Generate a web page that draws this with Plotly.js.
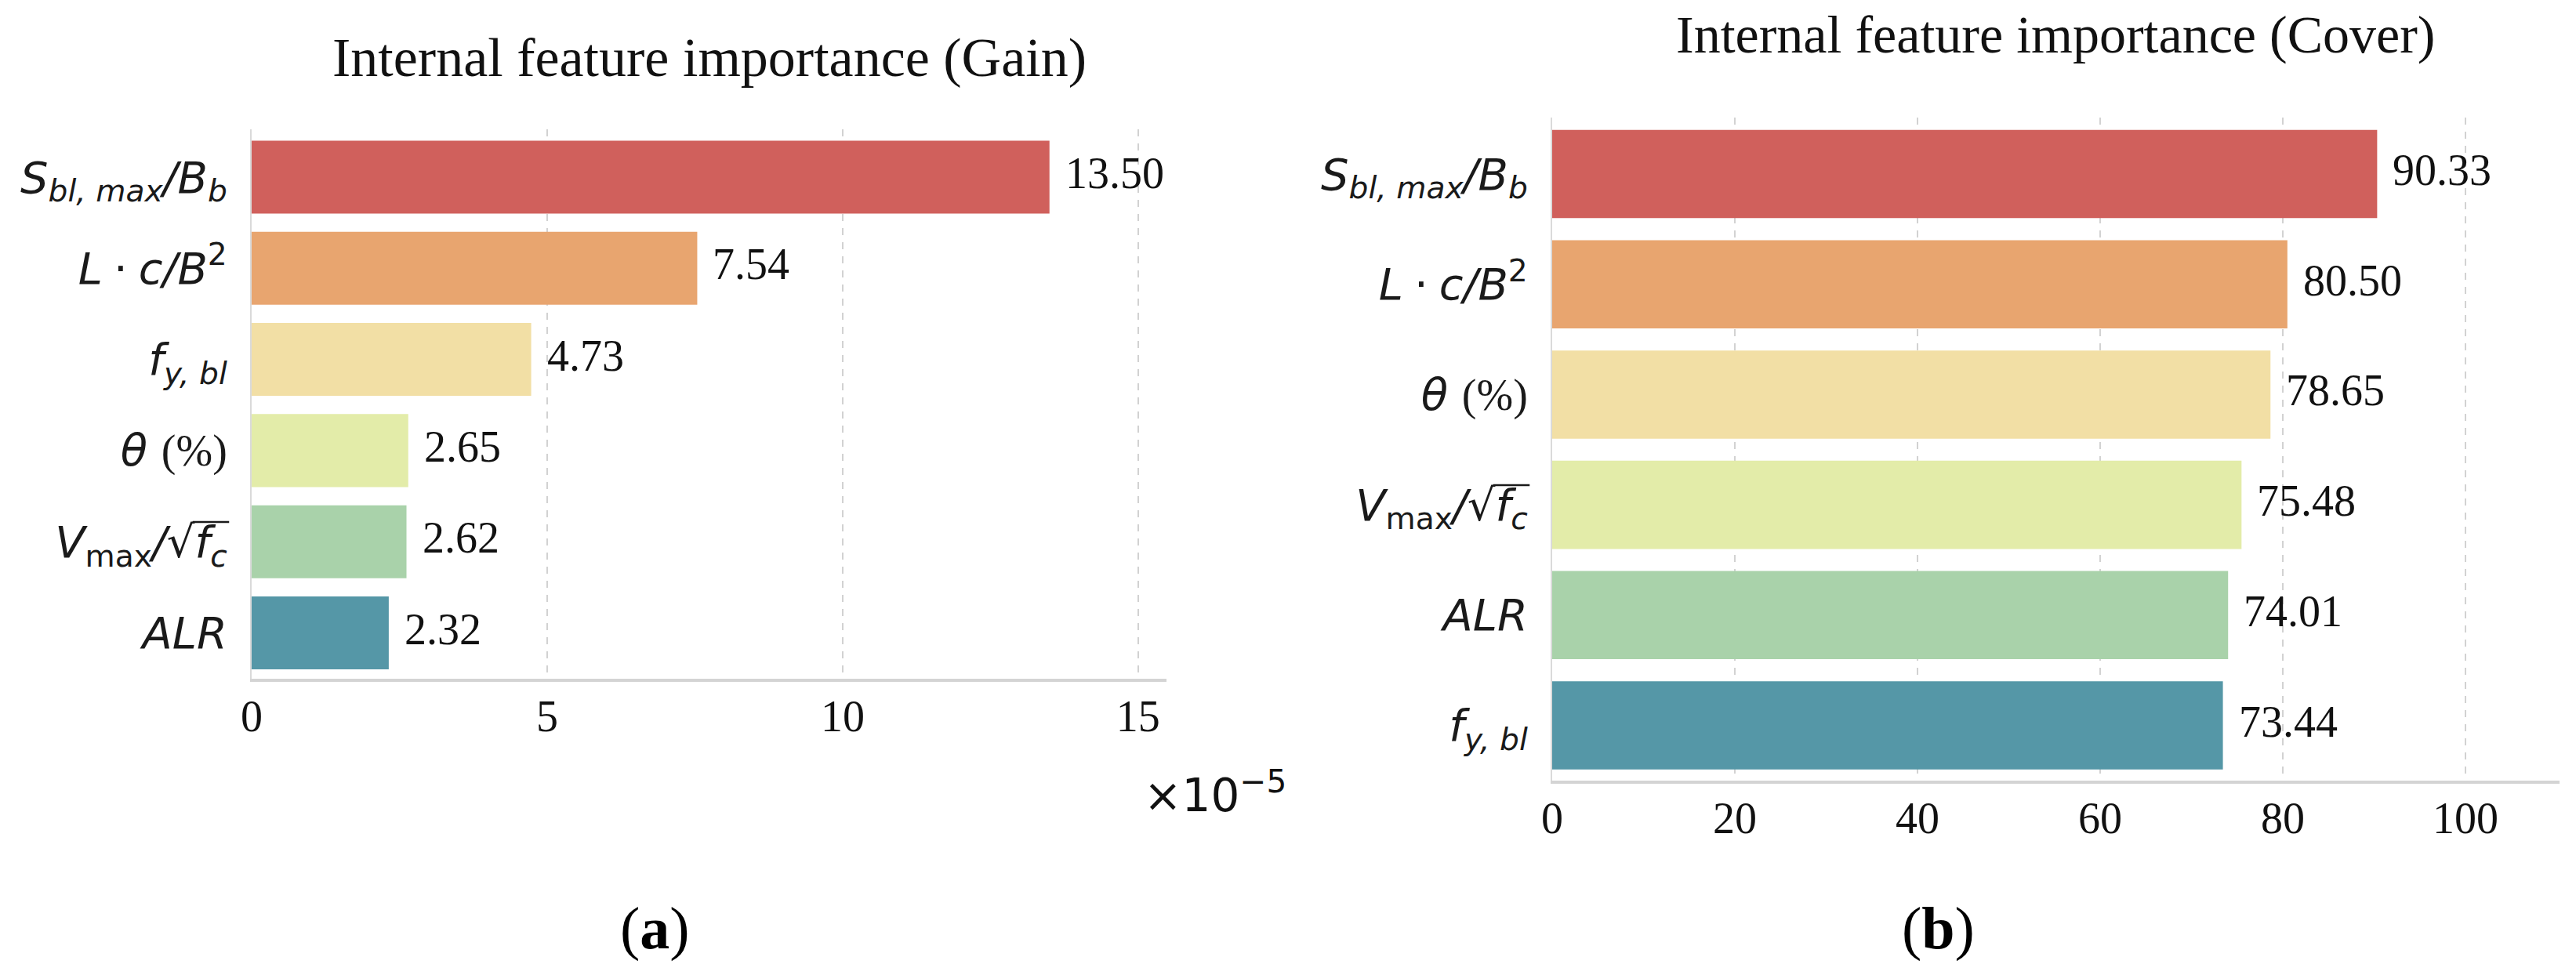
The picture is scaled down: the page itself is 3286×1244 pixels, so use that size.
<!DOCTYPE html>
<html>
<head>
<meta charset="utf-8">
<script src="https://cdn.plot.ly/plotly-3.0.1.min.js"></script>
<style>html,body{margin:0;padding:0;background:#fff;}#chart{width:3286px;height:1244px;}</style>
</head>
<body>
<div id="chart"></div>
<script>
// ---- data ----
const gainCategories = ["S_bl_max/B_b", "L*c/B^2", "f_y_bl", "theta", "V_max/sqrt_fc", "ALR"];
const gainValues = [13.50, 7.54, 4.73, 2.65, 2.62, 2.32];
const gainTickLabels = [
  "<i>S</i><sub><i>bl, max</i></sub><i>/B</i><sub><i>b</i></sub>",
  "<i>L</i>\u2005·\u2005<i>c/B</i><sup>2</sup>",
  "<i>f</i><sub><i>y, bl</i></sub>",
  "<i>θ</i> <span style='font-family:Liberation Serif'>(%)</span>",
  "<i>V</i><sub>max</sub><i>/</i>√<i>f</i><sub><i>c</i></sub>",
  "<i>ALR</i>"
];
const coverCategories = ["S_bl_max/B_b", "L*c/B^2", "theta", "V_max/sqrt_fc", "ALR", "f_y_bl"];
const coverValues = [90.33, 80.50, 78.65, 75.48, 74.01, 73.44];
const coverTickLabels = [
  "<i>S</i><sub><i>bl, max</i></sub><i>/B</i><sub><i>b</i></sub>",
  "<i>L</i>\u2005·\u2005<i>c/B</i><sup>2</sup>",
  "<i>θ</i> <span style='font-family:Liberation Serif'>(%)</span>",
  "<i>V</i><sub>max</sub><i>/</i>√<i>f</i><sub><i>c</i></sub>",
  "<i>ALR</i>",
  "<i>f</i><sub><i>y, bl</i></sub>"
];
const barColors = ["#d0605c", "#e8a56f", "#f2dfa5", "#e3eca9", "#a9d2aa", "#5597a7"];
const gainTicks = [0, 5, 10, 15];
const coverTicks = [0, 20, 40, 60, 80, 100];
const titles = ["Internal feature importance (Gain)", "Internal feature importance (Cover)"];
const panelLabels = ["(<b>a</b>)", "(<b>b</b>)"];
const gainScaleLabel = "×10<sup>−5</sup>";

const serif = "Liberation Serif, Times New Roman, serif";
const sans = "DejaVu Sans, sans-serif";
const W = 3286, H = 1244;

const traces = [
  {type: "bar", orientation: "h", x: gainValues, y: gainCategories, xaxis: "x", yaxis: "y",
   width: 0.8, marker: {color: barColors, line: {width: 0}}, hoverinfo: "none"},
  {type: "bar", orientation: "h", x: coverValues, y: coverCategories, xaxis: "x2", yaxis: "y2",
   width: 0.8, marker: {color: barColors, line: {width: 0}}, hoverinfo: "none"}
];

function xAxis(domain, range, ticks, anchor) {
  return {domain: domain, range: range, anchor: anchor, tickvals: ticks, ticktext: ticks.map(String),
    showgrid: true, gridcolor: "#d2d2d2", gridwidth: 1.5, griddash: "dash", zeroline: false,
    showline: true, linecolor: "#d4d4d4", linewidth: 4, ticks: "", ticklabelstandoff: -4,
    tickfont: {family: serif, size: 56, color: "#111"}, fixedrange: true};
}
function yAxis(domain, range, cats, labels, anchor) {
  return {domain: domain, range: range, anchor: anchor, type: "category",
    tickvals: cats, ticktext: labels, showgrid: false, zeroline: false,
    showline: true, linecolor: "#dadada", linewidth: 2, ticks: "", ticklabelstandoff: 18,
    tickfont: {family: sans, size: 56, color: "#1a1a1a"}, fixedrange: true};
}

const annotations = [];
gainValues.forEach((v, i) => annotations.push({x: v, y: gainCategories[i], xref: "x", yref: "y",
  text: v.toFixed(2), showarrow: false, xanchor: "left", yanchor: "middle", xshift: 18, yshift: 5,
  font: {family: serif, size: 56, color: "#111"}}));
coverValues.forEach((v, i) => annotations.push({x: v, y: coverCategories[i], xref: "x2", yref: "y2",
  text: v.toFixed(2), showarrow: false, xanchor: "left", yanchor: "middle", xshift: 18, yshift: 5,
  font: {family: serif, size: 56, color: "#111"}}));
annotations.push({x: 905/W, y: 1 - 74/H, xref: "paper", yref: "paper", text: titles[0], showarrow: false,
  xanchor: "center", yanchor: "middle", font: {family: serif, size: 70, color: "#111"}});
annotations.push({x: 2622/W, y: 1 - 44/H, xref: "paper", yref: "paper", text: titles[1], showarrow: false,
  xanchor: "center", yanchor: "middle", font: {family: serif, size: 68, color: "#111"}});
annotations.push({x: 835/W, y: 1 - 1184/H, xref: "paper", yref: "paper", text: panelLabels[0], showarrow: false,
  xanchor: "center", yanchor: "middle", font: {family: serif, size: 76, color: "#000"}});
annotations.push({x: 2472/W, y: 1 - 1184/H, xref: "paper", yref: "paper", text: panelLabels[1], showarrow: false,
  xanchor: "center", yanchor: "middle", font: {family: serif, size: 76, color: "#000"}});
annotations.push({x: 1457/W, y: 1 - 1011/H, xref: "paper", yref: "paper", text: gainScaleLabel, showarrow: false,
  xanchor: "left", yanchor: "middle", font: {family: sans, size: 58, color: "#111"}});

const layout = {
  width: W, height: H, margin: {l: 0, r: 0, t: 0, b: 0},
  paper_bgcolor: "#fff", plot_bgcolor: "#fff", showlegend: false, bargap: 0.2,
  xaxis: xAxis([321/W, 1488/W], [0, 15.48], gainTicks, "y"),
  yaxis: yAxis([1 - 866/H, 1 - 165/H], [5.503, -0.524], gainCategories, gainTickLabels, "x"),
  xaxis2: xAxis([1980/W, 3265/W], [0, 110.3], coverTicks, "y2"),
  yaxis2: yAxis([1 - 996/H, 1 - 150/H], [5.501, -0.512], coverCategories, coverTickLabels, "x2"),
  annotations: annotations
};

// Square-root vinculum: measured from the rendered tick label text, then drawn as a paper-space line.
function addVinculum(gd) {
  const rect = gd.getBoundingClientRect();
  const shapes = [];
  gd.querySelectorAll(".yaxislayer-above text, .yaxislayer-below text").forEach(t => {
    const s = t.textContent;
    const idx = s.indexOf("√");
    if (idx < 0) return;
    const svg = t.ownerSVGElement;
    const m = t.getScreenCTM();
    const toScreen = (x, y) => { const p = svg.createSVGPoint(); p.x = x; p.y = y; return p.matrixTransform(m); };
    const start = t.getStartPositionOfChar(idx);
    const ext = t.getExtentOfChar(idx);
    const bb = t.getBBox();
    const fs = 56;
    const yTop = start.y - 0.80 * fs;
    const a = toScreen(ext.x + ext.width * 0.92, yTop);
    const b = toScreen(bb.x + bb.width + 2, yTop);
    shapes.push({type: "line", xref: "paper", yref: "paper",
      x0: (a.x - rect.left) / W, x1: (b.x - rect.left) / W,
      y0: 1 - (a.y - rect.top) / H, y1: 1 - (b.y - rect.top) / H,
      line: {color: "#1a1a1a", width: 2.5}});
  });
  if (shapes.length) return Plotly.relayout(gd, {shapes: shapes});
}

Plotly.newPlot("chart", traces, layout, {staticPlot: true, displayModeBar: false}).then(addVinculum);
</script>
</body>
</html>
